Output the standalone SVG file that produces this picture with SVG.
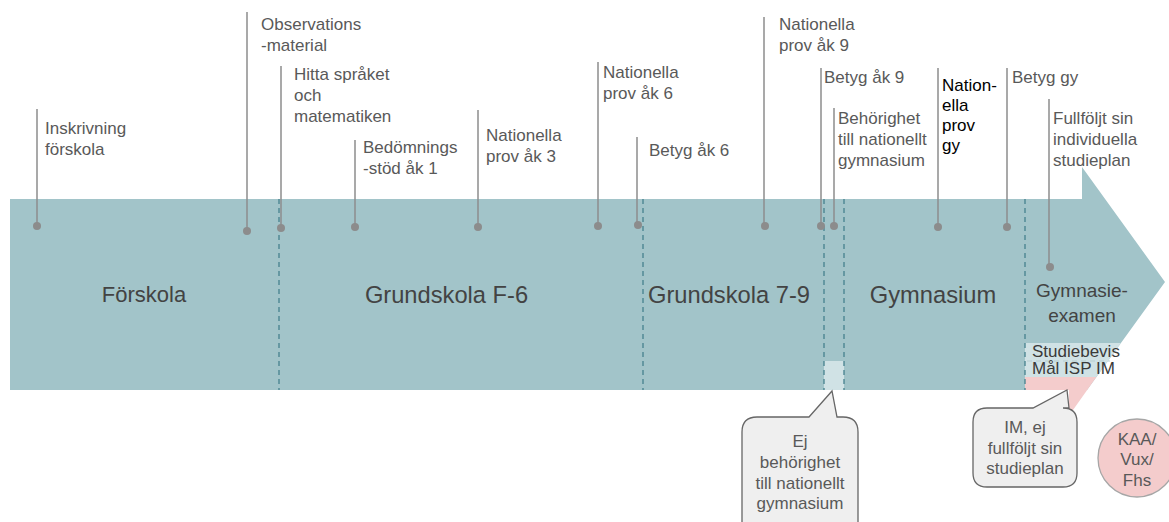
<svg xmlns="http://www.w3.org/2000/svg" width="1169" height="522" viewBox="0 0 1169 522">
<defs>
<style>
.band{fill:#a2c4c9}
.div{stroke:#45818e;stroke-width:1.3;stroke-dasharray:5 4;fill:none}
.lead{stroke:#8c8c8c;stroke-width:1.5;fill:none}
.dot{fill:#8c8c8c}
.lbl{font-family:"Liberation Sans",Arial,sans-serif;font-size:17px;fill:#595959}
.blk{fill:#000}
.stage{font-family:"Liberation Sans",Arial,sans-serif;font-size:23.7px;fill:#434343;text-anchor:middle}
.bub{fill:#efefef;stroke:#666;stroke-width:1.3}
.mid{text-anchor:middle}
</style>
</defs>
<rect width="1169" height="522" fill="#fff"/>
<g id="band">
<path class="band" d="M10,199 H1082 V167 L1165,282 L1087,390 H10 Z"/>
<rect x="824" y="361" width="20" height="29" fill="#d0e2e5"/>
<path d="M1025,343 H1121 L1096.4,377 H1025 Z" fill="#d0e2e5"/>
<path d="M1025,377 H1096.4 L1073,410 L1069,410 V390 H1025 Z" fill="#f4cccc"/>
<line x1="1027" y1="361" x2="1110" y2="361" stroke="#b5cdd1" stroke-width="1.2" stroke-dasharray="5 4"/>
<line class="div" x1="279" y1="199" x2="279" y2="390"/>
<line class="div" x1="643" y1="199" x2="643" y2="390"/>
<line class="div" x1="824" y1="199" x2="824" y2="390"/>
<line class="div" x1="844" y1="199" x2="844" y2="390"/>
<line class="div" x1="1025" y1="199" x2="1025" y2="390"/>
</g>
<g id="stages">
<text class="stage" x="144" y="302" style="font-size:22px">Förskola</text>
<text class="stage" x="446.5" y="303">Grundskola F-6</text>
<text class="stage" x="729" y="303">Grundskola 7-9</text>
<text class="stage" x="933" y="303">Gymnasium</text>
<text class="stage" x="1082" y="297" style="font-size:19px">Gymnasie-</text>
<text class="stage" x="1082" y="322" style="font-size:19px">examen</text>
</g>
<g id="connectors">
<line class="lead" x1="37" y1="109" x2="37" y2="226"/><circle class="dot" cx="37" cy="226" r="4"/>
<line class="lead" x1="247" y1="12" x2="247" y2="231"/><circle class="dot" cx="247" cy="231" r="4"/>
<line class="lead" x1="281" y1="66" x2="281" y2="228"/><circle class="dot" cx="281" cy="228" r="4"/>
<line class="lead" x1="355" y1="140" x2="355" y2="227"/><circle class="dot" cx="355" cy="227" r="4"/>
<line class="lead" x1="478" y1="110" x2="478" y2="227"/><circle class="dot" cx="478" cy="227" r="4"/>
<line class="lead" x1="598" y1="62" x2="598" y2="226"/><circle class="dot" cx="598" cy="226" r="4"/>
<line class="lead" x1="637" y1="137" x2="637" y2="225"/><circle class="dot" cx="638" cy="225" r="4"/>
<line class="lead" x1="764" y1="17" x2="764" y2="226"/><circle class="dot" cx="765" cy="226" r="4"/>
<line class="lead" x1="821" y1="68" x2="821" y2="226"/><circle class="dot" cx="821" cy="226" r="4"/>
<line class="lead" x1="834" y1="108" x2="834" y2="226"/><circle class="dot" cx="834" cy="226" r="4"/>
<line class="lead" x1="938" y1="68" x2="938" y2="227"/><circle class="dot" cx="938" cy="227" r="4"/>
<line class="lead" x1="1007" y1="68" x2="1007" y2="227"/><circle class="dot" cx="1007" cy="227" r="4"/>
<line class="lead" x1="1049" y1="99" x2="1049" y2="267"/><circle class="dot" cx="1050" cy="267" r="4"/>
</g>
<g id="n-inskrivning"><text class="lbl" x="45" y="134">Inskrivning</text><text class="lbl" x="45" y="155">förskola</text></g>
<g id="n-observation"><text class="lbl" x="261" y="30">Observations</text><text class="lbl" x="261" y="51">-material</text></g>
<g id="n-hitta"><text class="lbl" x="294" y="80">Hitta språket</text><text class="lbl" x="294" y="101">och</text><text class="lbl" x="294" y="122">matematiken</text></g>
<g id="n-bedomning"><text class="lbl" x="363" y="153">Bedömnings</text><text class="lbl" x="363" y="174">-stöd åk 1</text></g>
<g id="n-np3"><text class="lbl" x="486" y="141">Nationella</text><text class="lbl" x="486" y="162">prov åk 3</text></g>
<g id="n-np6"><text class="lbl" x="603" y="78">Nationella</text><text class="lbl" x="603" y="99">prov åk 6</text></g>
<g id="n-betyg6"><text class="lbl" x="649" y="156">Betyg åk 6</text></g>
<g id="n-np9"><text class="lbl" x="779" y="30">Nationella</text><text class="lbl" x="779" y="51">prov åk 9</text></g>
<g id="n-betyg9"><text class="lbl" x="824" y="83">Betyg åk 9</text></g>
<g id="n-behorighet"><text class="lbl" x="838" y="124">Behörighet</text><text class="lbl" x="838" y="145">till nationellt</text><text class="lbl" x="838" y="166">gymnasium</text></g>
<g id="n-npgy"><text class="lbl blk" x="942" y="91">Nation-</text><text class="lbl blk" x="942" y="111">ella</text><text class="lbl blk" x="942" y="131">prov</text><text class="lbl blk" x="942" y="151">gy</text></g>
<g id="n-betyggy"><text class="lbl" x="1012" y="83">Betyg gy</text></g>
<g id="n-fullfoljt"><text class="lbl" x="1053" y="124">Fullföljt sin</text><text class="lbl" x="1053" y="145">individuella</text><text class="lbl" x="1053" y="166">studieplan</text></g>
<g id="n-studiebevis"><text class="lbl" x="1032" y="357" style="fill:#3a3a3a">Studiebevis</text><text class="lbl" x="1032" y="374" style="fill:#3a3a3a">Mål ISP IM</text></g>
<g id="n-ej-behorighet">
<path class="bub" d="M757,417 H809 L832,391 L837,417 H843 Q858,417 858,432 V540 H742 V432 Q742,417 757,417 Z"/>
<text class="lbl mid" x="800" y="447">Ej</text><text class="lbl mid" x="800" y="468">behörighet</text><text class="lbl mid" x="800" y="489">till nationellt</text><text class="lbl mid" x="800" y="509">gymnasium</text>
</g>
<g id="n-im">
<path class="bub" d="M987,408 H1033 L1067,390 L1069,408 H1063 Q1077,408 1077,422 V473 Q1077,487 1063,487 H987 Q973,487 973,473 V422 Q973,408 987,408 Z"/>
<text class="lbl mid" x="1025" y="433">IM, ej</text><text class="lbl mid" x="1025" y="454">fullföljt sin</text><text class="lbl mid" x="1025" y="474">studieplan</text>
</g>
<g id="n-kaa">
<circle cx="1137" cy="458" r="39" fill="#f4cccc" stroke="#a6a6a6" stroke-width="1.3"/>
<text class="lbl mid" x="1137" y="445">KAA/</text><text class="lbl mid" x="1137" y="465">Vux/</text><text class="lbl mid" x="1137" y="486">Fhs</text>
</g>
</svg>
